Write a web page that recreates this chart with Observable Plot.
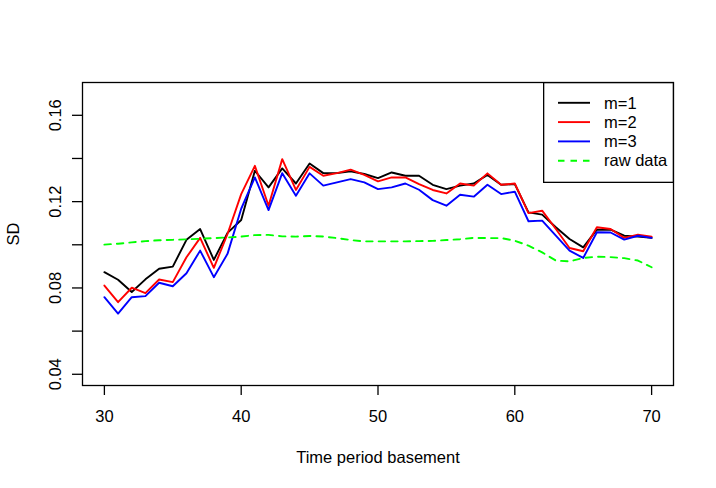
<!DOCTYPE html>
<html>
<head>
<meta charset="utf-8">
<script src="https://cdn.jsdelivr.net/npm/d3@7"></script>
<script src="https://cdn.jsdelivr.net/npm/@observablehq/plot@0.6"></script>
<style>
  html, body { margin: 0; padding: 0; background: #fff; }
  #wrap { position: relative; width: 716px; height: 488px; font-family: "Liberation Sans", Arial, Helvetica, sans-serif; }
  #legend { position: absolute; left: 543px; top: 81.5px; }
</style>
</head>
<body>
<div id="wrap"></div>
<script>
// ---- data ----
const periods = d3.range(30, 71); // 30..70
const m1 = [0.0873,0.0838,0.0781,0.0840,0.0889,0.0899,0.1023,0.1073,0.0930,0.1055,
            0.1115,0.1343,0.1266,0.1354,0.1284,0.1377,0.1332,0.1332,0.1340,0.1328,
            0.1309,0.1335,0.1320,0.1320,0.1278,0.1258,0.1274,0.1284,0.1324,0.1278,
            0.1281,0.1150,0.1140,0.1081,0.1027,0.0988,0.1070,0.1070,0.1042,0.1038,0.1032];
const m2 = [0.0811,0.0734,0.0801,0.0776,0.0839,0.0827,0.0942,0.1032,0.0893,0.1050,
            0.1235,0.1366,0.1181,0.1397,0.1254,0.1361,0.1320,0.1332,0.1348,0.1324,
            0.1294,0.1312,0.1312,0.1281,0.1254,0.1238,0.1284,0.1274,0.1331,0.1278,
            0.1284,0.1147,0.1158,0.1073,0.0985,0.0970,0.1081,0.1073,0.1032,0.1047,0.1038];
const m3 = [0.0757,0.0681,0.0757,0.0762,0.0824,0.0808,0.0868,0.0973,0.0850,0.0958,
            0.1167,0.1312,0.1161,0.1332,0.1227,0.1331,0.1274,0.1289,0.1304,0.1289,
            0.1258,0.1266,0.1284,0.1255,0.1207,0.1181,0.1232,0.1223,0.1278,0.1235,
            0.1246,0.1109,0.1112,0.1042,0.0973,0.0939,0.1058,0.1057,0.1024,0.1042,0.1032];
const raw = [0.1001,0.1005,0.1011,0.1017,0.1021,0.1023,0.1025,0.1028,0.1031,0.1034,
             0.1038,0.1045,0.1046,0.1039,0.1038,0.1041,0.1038,0.1031,0.1022,0.1016,
             0.1016,0.1016,0.1016,0.1017,0.1018,0.1022,0.1026,0.1032,0.1031,0.1031,
             0.1019,0.0996,0.0965,0.0927,0.0923,0.0939,0.0945,0.0943,0.0938,0.0927,0.0896];
const seriesNames = ["m=1", "m=2", "m=3", "raw data"];
const seriesColors = ["#000000", "#ff0000", "#0000ff", "#00ff00"];
const xTicks = [30, 40, 50, 60, 70];
const yTicks = [0.04, 0.06, 0.08, 0.10, 0.12, 0.14, 0.16];
const yLabelTicks = [0.04, 0.08, 0.12, 0.16];
const xTitle = "Time period basement";
const yTitle = "SD";

const FS = 16.5;
const toRows = (vals) => periods.map((t, i) => ({t, v: vals[i]}));
const allSeries = [m1, m2, m3, raw].map(toRows);

const chart = Plot.plot({
  width: 716,
  height: 488,
  marginLeft: 82,
  marginRight: 43,
  marginTop: 82,
  marginBottom: 103,
  style: {background: "#fff", color: "#000", fontFamily: '"Liberation Sans", Arial, Helvetica, sans-serif', fontSize: FS + "px", overflow: "visible"},
  x: {domain: [28.4, 71.6]},
  y: {domain: [0.0348, 0.1752]},
  marks: [
    Plot.line(allSeries[0], {x: "t", y: "v", stroke: seriesColors[0], strokeWidth: 1.9}),
    Plot.line(allSeries[1], {x: "t", y: "v", stroke: seriesColors[1], strokeWidth: 1.9}),
    Plot.line(allSeries[2], {x: "t", y: "v", stroke: seriesColors[2], strokeWidth: 1.9}),
    Plot.line(allSeries[3], {x: "t", y: "v", stroke: seriesColors[3], strokeWidth: 1.9, strokeDasharray: "6.5,6"}),
    Plot.frame({stroke: "#000", strokeWidth: 1.3}),
    Plot.axisX({ticks: xTicks, tickSize: 10, tickPadding: 14.5, label: null, fontSize: FS, strokeWidth: 1.3}),
    Plot.axisY({ticks: yTicks, tickSize: 10, fill: "none", label: null, strokeWidth: 1.3}),
    Plot.axisY({ticks: yLabelTicks, tickSize: 0, tickPadding: 22, tickRotate: -90, textAnchor: "middle", lineAnchor: "bottom", label: null, fontSize: FS, tickFormat: d3.format(".2f")}),
    Plot.text([xTitle], {frameAnchor: "bottom", dy: 72.5, lineAnchor: "middle", fontSize: FS}),
    Plot.text([yTitle], {frameAnchor: "left", dx: -69, rotate: -90, textAnchor: "middle", lineAnchor: "middle", fontSize: FS})
  ]
});

const wrap = document.getElementById("wrap");
wrap.appendChild(chart);

// legend (top-right inset box)
const lw = 131, lh = 101;
const leg = d3.select(wrap).append("svg")
  .attr("id", "legend").attr("width", lw).attr("height", lh)
  .style("font-family", '"Liberation Sans", Arial, Helvetica, sans-serif');
leg.append("rect").attr("x", 0.65).attr("y", 0.65).attr("width", lw - 1.3).attr("height", lh - 1.3)
  .attr("fill", "#fff").attr("stroke", "#000").attr("stroke-width", 1.3);
const rowY = (i) => 20.8 + i * 19.3;
seriesNames.forEach((name, i) => {
  leg.append("line").attr("x1", 15).attr("x2", 47).attr("y1", rowY(i)).attr("y2", rowY(i))
    .attr("stroke", seriesColors[i]).attr("stroke-width", 1.9)
    .attr("stroke-dasharray", i === 3 ? "6.5,6" : null);
  leg.append("text").attr("x", 61).attr("y", rowY(i)).attr("dy", "0.35em")
    .attr("font-size", FS).attr("fill", "#000").text(name);
});
</script>
</body>
</html>
